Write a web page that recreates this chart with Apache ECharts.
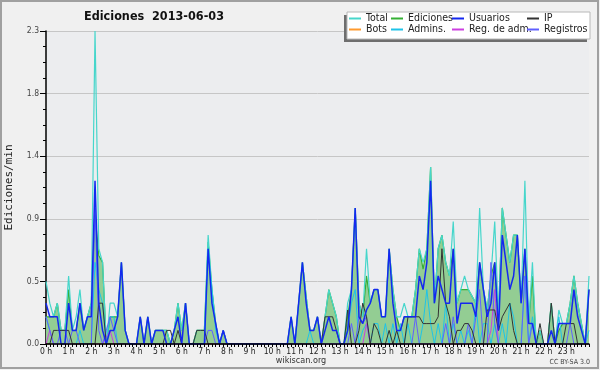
<!DOCTYPE html>
<html><head><meta charset="utf-8">
<script src="https://cdn.jsdelivr.net/npm/echarts@6/dist/echarts.min.js"></script>
<style>html,body{margin:0;padding:0;background:#f0f0f0}#c{width:600px;height:370px}</style>
</head><body><div id="c"></div>
<script>
// x: 10-minute slots 0..144 (0 h .. 24 h)
const hourLabels = ['0 h','1 h','2 h','3 h','4 h','5 h','6 h','7 h','8 h','9 h','10 h','11 h','12 h','13 h','14 h','15 h','16 h','17 h','18 h','19 h','20 h','21 h','22 h','23 h'];
const yTickLabels = ['0.0','0.5','0.9','1.4','1.8','2.3'];

const total = [
0.46,0.3,0.2,0.3,0.1,0.1,
0.5,0.1,0.2,0.4,0.1,0.2,
0.3,2.3,0.7,0.6,0.0,0.3,
0.3,0.2,0.6,0.1,0.0,0.0,
0.0,0.2,0.0,0.2,0.0,0.1,
0.1,0.1,0.1,0.0,0.1,0.3,
0.1,0.3,0.0,0.0,0.1,0.1,
0.1,0.8,0.4,0.15,0.0,0.1,
0,0,0,0,0,0,
0,0,0,0,0,0,
0,0,0,0,0,0.2,
0.0,0.3,0.6,0.35,0.1,0.1,
0.2,0.0,0.2,0.4,0.3,0.2,
0.0,0.0,0.3,0.4,1.0,0.3,
0.2,0.7,0.3,0.4,0.4,0.2,
0.2,0.7,0.4,0.2,0.2,0.3,
0.2,0.2,0.4,0.7,0.6,0.7,
1.3,0.3,0.7,0.8,0.6,0.5,
0.9,0.3,0.4,0.5,0.4,0.35,
0.3,1.0,0.4,0.25,0.5,0.9,
0.2,1.0,0.8,0.6,0.8,0.8,
0.3,1.2,0.15,0.6,0.0,0.1,
0.0,0.0,0.3,0.0,0.25,0.15,
0.15,0.3,0.5,0.3,0.15,0.0,
0.5];

const ediciones = [
0.2,0.2,0.2,0.3,0.1,0.1,
0.4,0.1,0.1,0.3,0.1,0.2,
0.3,0.95,0.65,0.6,0.0,0.2,
0.2,0.2,0.6,0.1,0.0,0.0,
0.0,0.2,0.0,0.2,0.0,0.1,
0.1,0.1,0.1,0.0,0.1,0.3,
0.1,0.3,0.0,0.0,0.1,0.1,
0.1,0.75,0.4,0.15,0.0,0.1,
0,0,0,0,0,0,
0,0,0,0,0,0,
0,0,0,0,0,0.2,
0.0,0.3,0.6,0.35,0.1,0.1,
0.2,0.0,0.2,0.4,0.3,0.2,
0.0,0.0,0.2,0.4,1.0,0.3,
0.2,0.5,0.3,0.4,0.4,0.2,
0.2,0.7,0.4,0.2,0.1,0.2,
0.2,0.2,0.4,0.7,0.55,0.7,
1.3,0.3,0.7,0.8,0.6,0.5,
0.7,0.3,0.4,0.4,0.4,0.35,
0.3,0.6,0.4,0.25,0.5,0.6,
0.2,1.0,0.8,0.6,0.8,0.8,
0.3,0.7,0.15,0.5,0.0,0.1,
0.0,0.0,0.3,0.0,0.1,0.15,
0.15,0.3,0.5,0.3,0.15,0.0,
0.4];

const usuarios = [
0.3,0.2,0.2,0.2,0.0,0.0,
0.3,0.1,0.1,0.3,0.1,0.2,
0.2,1.2,0.3,0.1,0.0,0.1,
0.1,0.2,0.6,0.1,0.0,0.0,
0.0,0.2,0.0,0.2,0.0,0.1,
0.1,0.1,0.0,0.0,0.1,0.2,
0.0,0.3,0.0,0.0,0.0,0.0,
0.0,0.7,0.3,0.15,0.0,0.1,
0,0,0,0,0,0,
0,0,0,0,0,0,
0,0,0,0,0,0.2,
0.0,0.3,0.6,0.3,0.1,0.1,
0.2,0.0,0.1,0.2,0.1,0.1,
0.0,0.0,0.1,0.4,1.0,0.2,
0.15,0.25,0.3,0.4,0.4,0.2,
0.2,0.7,0.3,0.1,0.1,0.2,
0.2,0.2,0.2,0.5,0.4,0.6,
1.2,0.3,0.5,0.4,0.3,0.3,
0.7,0.15,0.3,0.3,0.3,0.3,
0.2,0.6,0.4,0.2,0.3,0.6,
0.1,0.8,0.6,0.4,0.5,0.8,
0.3,0.7,0.15,0.15,0.0,0.0,
0.0,0.0,0.1,0.0,0.15,0.15,
0.15,0.15,0.4,0.2,0.1,0.0,
0.4];

const ip = [
0,0,0.1,0.1,0.1,0.1,
0.1,0,0,0,0,0,
0,0,0.3,0.3,0,0,
0,0,0,0,0,0,
0,0,0,0,0,0,
0,0,0.1,0.1,0,0.1,
0,0,0,0,0.1,0.1,
0.1,0,0,0,0,0,
0,0,0,0,0,0,
0,0,0,0,0,0,
0,0,0,0,0,0,
0,0,0,0,0,0,
0,0,0.2,0.2,0.2,0.1,
0,0,0.25,0,0,0.1,
0.3,0.2,0,0.15,0.1,0,
0,0.1,0,0.1,0,0,
0.2,0.2,0.2,0.2,0.15,0.15,
0.15,0.15,0.2,0.7,0.3,0.2,
0,0.1,0.1,0.15,0.15,0.1,
0,0,0,0.25,0.25,0.25,
0.1,0.2,0.25,0.3,0.1,0,
0,0,0,0,0,0.15,
0,0,0.3,0,0,0,
0.15,0.15,0.15,0,0,0,
0];

const bots = [
0,0,0,0,0,0, 0,0,0,0,0,0, 0,0,0,0,0,0, 0,0,0,0,0,0,
0,0,0,0,0,0, 0,0,0,0,0,0, 0,0,0,0,0,0, 0,0,0,0,0,0,
0,0,0,0,0,0, 0,0,0,0,0,0, 0,0,0,0,0,0, 0,0,0,0,0,0,
0,0,0,0,0,0, 0,0,0,0,0,0, 0,0,0,0,0,0, 0,0,0,0,0,0,
0,0,0,0,0,0, 0,0,0,0,0,0, 0,0,0,0,0,0, 0,0,0,0,0,0,
0,0,0,0,0,0, 0,0,0,0,0,0, 0,0,0,0,0,0, 0,0,0,0,0,0,
0];

const admins = [
0.2,0.1,0,0,0,0,
0,0,0,0.1,0,0,
0,0.6,0.4,0.3,0,0.2,
0.2,0,0,0,0,0,
0,0,0,0,0,0,
0,0,0,0,0,0,
0,0,0,0,0,0,
0,0.7,0.4,0.1,0,0,
0,0,0,0,0,0,
0,0,0,0,0,0,
0,0,0,0,0,0,
0,0,0,0,0.1,0,
0,0,0,0,0,0,
0,0,0.1,0.3,0.4,0,
0.1,0.15,0,0.15,0.15,0,
0.15,0,0.15,0,0.15,0,
0.15,0,0,0,0.15,0.4,
0.15,0,0.15,0,0.3,0,
0.15,0,0.1,0,0.1,0,
0.3,0,0.15,0.15,0,0.15,
0,0.15,0,0.3,0.2,0,
0,0.5,0,0.2,0,0,
0,0,0,0,0.2,0,
0,0,0,0,0,0,
0.1];

const regAdm = [
0,0.1,0,0,0,0,
0,0,0,0,0,0,
0,0,0,0,0.05,0.1,
0,0,0,0,0,0,
0,0,0,0,0,0, 0,0,0,0,0,0, 0,0,0,0,0,0, 0,0,0,0,0,0,
0,0,0,0,0,0, 0,0,0,0,0,0, 0,0,0,0,0,0, 0,0,0,0,0,0,
0,0,0,0,0,0, 0,0,0,0,0,0,
0,0.15,0,0,0,0,
0,0,0,0,0,0, 0,0,0,0,0,0, 0,0,0,0,0,0, 0,0,0,0,0,0,
0,0,0,0,0.1,0.4,
0,0,0,0,0,0, 0,0,0,0,0,0, 0,0,0,0,0,0, 0,0,0,0,0,0,
0];

const registros = [
0.2,0.1,0,0,0.1,0.1,
0,0.1,0.1,0,0,0,
0,1.0,0.1,0,0.1,0.2,
0.1,0,0,0,0,0,
0,0,0,0,0,0,
0,0,0,0,0,0,
0,0,0,0,0,0,
0,0.1,0.1,0,0,0.1,
0,0,0,0,0,0,
0,0,0,0,0,0,
0,0,0,0,0,0,
0,0,0,0,0,0,
0,0,0,0,0,0,
0,0,0,0.15,0,0.2,
0.15,0.2,0,0,0,0,
0,0,0,0,0,0,
0,0,0.2,0,0,0,
0,0,0,0,0.15,0,
0.2,0,0,0,0.15,0,
0.2,0.4,0,0,0.6,0.15,
0,0,0,0,0,0,
0,0.5,0,0.15,0,0,
0,0,0,0,0,0,
0,0.15,0,0,0,0,
0];

const FONT = '"DejaVu Sans Condensed", "DejaVu Sans", sans-serif';
const toXY = a => a.map((v, i) => [i, v]);

function line(name, arr, color, width, extra) {
  return Object.assign({
    name: name, type: 'line', data: toXY(arr), symbol: 'none', showSymbol: false,
    lineStyle: { color: color, width: width }, itemStyle: { color: color },
    animation: false, silent: true
  }, extra || {});
}

const chart = echarts.init(document.getElementById('c'), null, { renderer: 'canvas' });
const legendBase = {
  orient: 'vertical', top: 13, padding: 0, itemGap: 0, itemWidth: 12, itemHeight: 2,
  icon: 'rect', selectedMode: false, z: 10,
  textStyle: { fontFamily: FONT, fontSize: 10.5, color: '#222', lineHeight: 11, padding: [0, 0, 0, 0] }
};
chart.setOption({
  backgroundColor: '#f0f0f0',
  animation: false,
  grid: { left: 46, right: 11, top: 31, bottom: 26, show: true, backgroundColor: '#ecedef', borderWidth: 0,
    containLabel: false, outerBoundsMode: 'none' },
  xAxis: {
    type: 'value', min: 0, max: 144, interval: 6, z: 5,
    axisLine: { show: true, lineStyle: { color: '#000', width: 1.5 } },
    axisTick: { show: true, length: 3, lineStyle: { color: '#000' } },
    minorTick: { show: true, splitNumber: 6, length: 3, lineStyle: { color: '#000' } },
    splitLine: { show: false },
    axisLabel: { margin: 3, fontFamily: FONT, fontSize: 8.5, color: '#222',
      formatter: v => (v % 6 === 0 && v / 6 < hourLabels.length) ? hourLabels[v / 6] : '' }
  },
  yAxis: {
    type: 'value', min: 0, max: 2.3, interval: 0.46,
    name: 'Ediciones/min', nameLocation: 'middle', nameGap: 31,
    nameTextStyle: { fontFamily: '"DejaVu Sans Mono", monospace', fontSize: 11, color: '#222' },
    axisLine: { show: true, lineStyle: { color: '#000', width: 1.5 } },
    axisTick: { show: true, length: 6, lineStyle: { color: '#000' } },
    minorTick: { show: true, splitNumber: 4, length: 3, lineStyle: { color: '#000' } },
    splitLine: { show: true, lineStyle: { color: '#c6c6c6', width: 1 } },
    axisLabel: { margin: 7, fontFamily: FONT, fontSize: 8.5, color: '#444',
      formatter: v => yTickLabels[Math.round(v / 0.46)] }
  },
  legend: [
    Object.assign({}, legendBase, { left: 349, data: ['Total', 'Bots'] }),
    Object.assign({}, legendBase, { left: 391, data: ['Ediciones', 'Admins.'] }),
    Object.assign({}, legendBase, { left: 452, data: ['Usuarios', 'Reg. de adm.'] }),
    Object.assign({}, legendBase, { left: 527, data: ['IP', 'Registros'] })
  ],
  graphic: [
    { type: 'rect', z: 1, shape: { x: 1, y: 1, width: 597, height: 367 }, style: { fill: 'none', stroke: '#a0a0a0', lineWidth: 2 } },
    { type: 'rect', z: 1, shape: { x: 344, y: 15, width: 243, height: 27 }, style: { fill: '#6e6e6e' } },
    { type: 'rect', z: 2, shape: { x: 347, y: 12, width: 243, height: 27 }, style: { fill: '#ffffff', stroke: '#b8b8b8', lineWidth: 1 } },
    { type: 'text', z: 3, x: 154, y: 17, style: { text: 'Ediciones  2013-06-03', font: 'bold 12.5px ' + FONT, fill: '#111',
      align: 'center', verticalAlign: 'middle', textAlign: 'center', textVerticalAlign: 'middle' } },
    { type: 'text', z: 3, x: 301, y: 361, style: { text: 'wikiscan.org', font: '9px ' + FONT, fill: '#333',
      align: 'center', verticalAlign: 'middle', textAlign: 'center', textVerticalAlign: 'middle' } },
    { type: 'text', z: 3, x: 590, y: 362, style: { text: 'CC BY-SA 3.0', font: '7px ' + FONT, fill: '#444',
      align: 'right', verticalAlign: 'middle', textAlign: 'right', textVerticalAlign: 'middle' } }
  ],
  series: [
    line('Ediciones', ediciones, '#35b035', 1.2, { areaStyle: { color: '#93cd93', opacity: 1 } }),
    line('Total', total, '#46d6cb', 1.2),
    line('Bots', bots, '#ff9a2e', 1),
    line('Admins.', admins, '#1ec3e8', 1),
    line('Reg. de adm.', regAdm, '#cc3fe0', 1),
    line('Registros', registros, '#6060ff', 1),
    line('IP', ip, '#333333', 1),
    line('Usuarios', usuarios, '#1428f0', 1.5)
  ]
});
</script></body></html>
